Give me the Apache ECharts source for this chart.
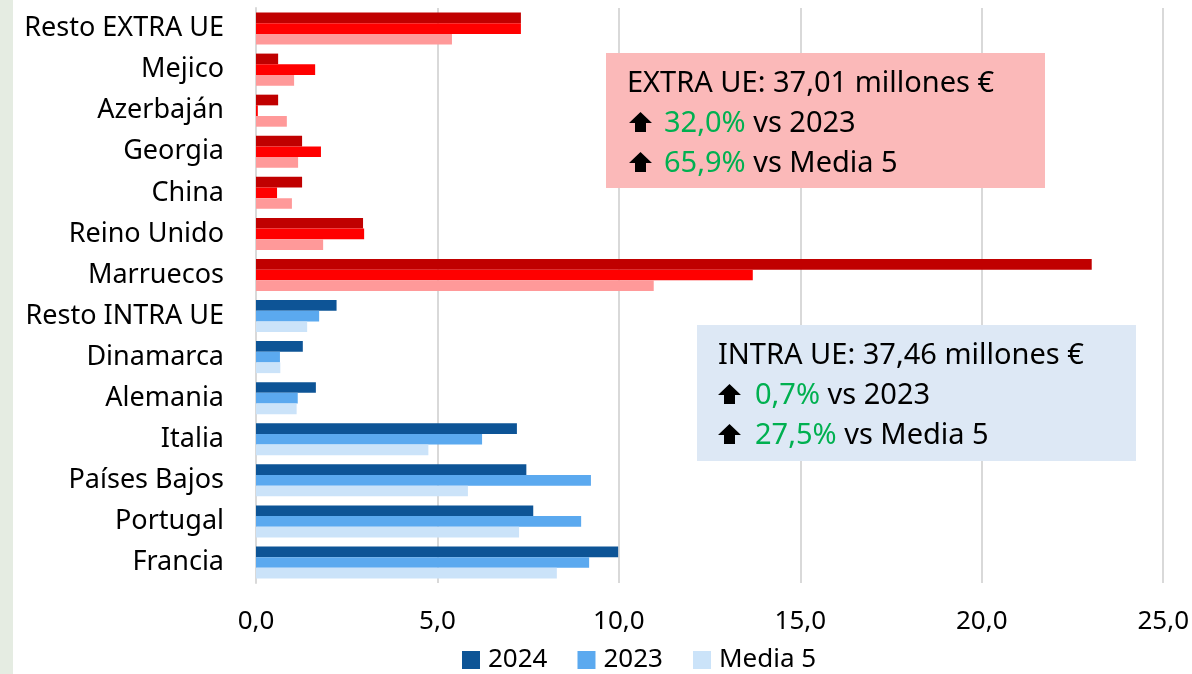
<!DOCTYPE html>
<html>
<head>
<meta charset="utf-8">
<script src="https://cdn.jsdelivr.net/npm/echarts@6/dist/echarts.min.js"></script>
<style>
  html, body { margin: 0; padding: 0; background: #fff; }
  #chart { width: 1192px; height: 674px; }
</style>
</head>
<body>
<div id="chart"></div>
<script>
// categories top to bottom; first 7 are EXTRA UE, rest INTRA UE
const categories = ['Resto EXTRA UE', 'Mejico', 'Azerbaján', 'Georgia', 'China', 'Reino Unido', 'Marruecos',
  'Resto INTRA UE', 'Dinamarca', 'Alemania', 'Italia', 'Países Bajos', 'Portugal', 'Francia']
const seriesNames = ['2024', '2023', 'Media 5']
const values2024 = [7.30, 0.61, 0.61, 1.27, 1.27, 2.95, 23.03, 2.22, 1.29, 1.65, 7.19, 7.45, 7.64, 9.98]
const values2023 = [7.30, 1.63, 0.05, 1.79, 0.58, 2.98, 13.69, 1.74, 0.66, 1.15, 6.23, 9.23, 8.96, 9.18]
const valuesMedia5 = [5.40, 1.05, 0.85, 1.16, 0.99, 1.85, 10.96, 1.41, 0.67, 1.12, 4.75, 5.84, 7.25, 8.29]
const xTickLabels = ['0,0', '5,0', '10,0', '15,0', '20,0', '25,0']
const extraCount = 7

const blueColors = ['#0d5496', '#5ba9ef', '#cbe3f9']
const redColors = ['#c00000', '#ff0000', '#ff9999']

const font = '"Noto Sans", "Open Sans", sans-serif'

const chart = echarts.init(document.getElementById('chart'))

function buildSeries(name, values, idx) {
  return {
    name,
    type: 'bar',
    barGap: '0%',
    barCategoryGap: '22%',
    itemStyle: { color: blueColors[idx] },
    data: values.map((v, i) => ({
      value: v,
      itemStyle: { color: i < extraCount ? redColors[idx] : blueColors[idx] }
    }))
  }
}

function boxText(title, p1, p2) {
  return '{t|' + title + '}\n' +
    '{s|}{g|' + p1 + '}{t| vs 2023}\n' +
    '{s|}{g|' + p2 + '}{t| vs Media 5}'
}

const richStyle = {
  t: { fontSize: 29, fontFamily: font, fill: '#000', lineHeight: 40 },
  g: { fontSize: 29, fontFamily: font, fill: '#00b050', lineHeight: 40 },
  s: { width: 37, lineHeight: 40 }
}

// block up-arrow drawn as a small polygon
function arrow(x, y) {
  return {
    type: 'polygon', x, y, z: 11,
    shape: { points: [[11.5, 0], [23, 11], [17, 11], [17, 20], [6, 20], [6, 11], [0, 11]] },
    style: { fill: '#000' }
  }
}

chart.setOption({
  animation: false,
  textStyle: { fontFamily: font },
  grid: { left: 256, right: 28, top: 8, bottom: 91 },
  legend: {
    top: 647,
    left: 462,
    padding: 0,
    itemWidth: 18,
    itemHeight: 18,
    itemGap: 30,
    icon: 'rect',
    textStyle: { fontSize: 26, color: '#000', fontFamily: font, padding: [0, 0, 0, 3] },
    data: seriesNames
  },
  xAxis: {
    type: 'value',
    min: 0,
    max: 25,
    interval: 5,
    axisLine: { show: false },
    axisTick: { show: false },
    splitLine: { lineStyle: { color: '#d9d9d9', width: 2 } },
    axisLabel: {
      fontSize: 26,
      color: '#000',
      margin: 26,
      formatter: v => xTickLabels[Math.round(v / 5)]
    }
  },
  yAxis: {
    type: 'category',
    inverse: true,
    data: categories,
    axisLine: { lineStyle: { color: '#d9d9d9', width: 2 } },
    axisTick: { show: false },
    axisLabel: { fontSize: 27, color: '#000', margin: 32 }
  },
  series: [
    buildSeries(seriesNames[0], values2024, 0),
    buildSeries(seriesNames[1], values2023, 1),
    buildSeries(seriesNames[2], valuesMedia5, 2)
  ],
  graphic: [
    { type: 'rect', left: 0, top: 0, shape: { width: 13, height: 674 }, style: { fill: '#e5ece2' }, z: 0 },
    { type: 'rect', left: 606, top: 53, shape: { width: 439, height: 135 }, style: { fill: '#fbb9b9' }, z: 10 },
    {
      type: 'text', left: 627, top: 69, z: 11,
      style: { text: boxText('EXTRA UE: 37,01 millones €', '32,0%', '65,9%'), rich: richStyle }
    },
    arrow(629, 112),
    arrow(629, 152),
    { type: 'rect', left: 697, top: 325, shape: { width: 439, height: 136 }, style: { fill: '#dde8f5' }, z: 10 },
    {
      type: 'text', left: 718, top: 341, z: 11,
      style: { text: boxText('INTRA UE: 37,46 millones €', '0,7%', '27,5%'), rich: richStyle }
    },
    arrow(718, 384),
    arrow(718, 424)
  ]
})
</script>
</body>
</html>
